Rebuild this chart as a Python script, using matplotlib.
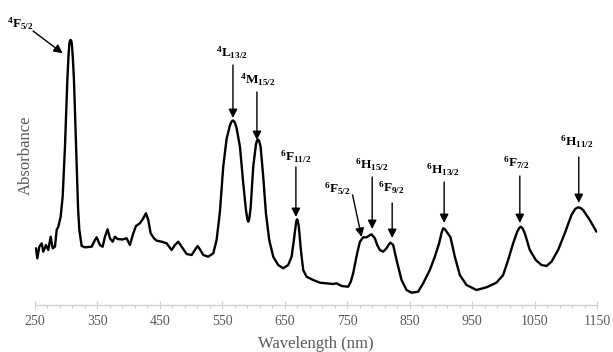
import numpy as np
import matplotlib
matplotlib.use("Agg")
import matplotlib.pyplot as plt

plt.rcParams['font.family'] = ['Liberation Serif', 'DejaVu Serif']
plt.rcParams['mathtext.fontset'] = 'custom'
plt.rcParams['mathtext.rm'] = 'Liberation Serif:bold'
plt.rcParams['mathtext.it'] = 'Liberation Serif:bold'
plt.rcParams['mathtext.bf'] = 'Liberation Serif:bold'

# spectrum (nm, arbitrary absorbance)
wavelength = [251.6, 253.7, 256.9, 260.7, 263.3, 267.6, 271.3, 275.1, 278.3, 282.0,
              284.7, 287.3, 291.1, 294.3, 298.0, 301.8, 303.6, 305.0, 306.1, 307.1,
              308.2, 309.2, 310.6, 312.4, 316.7, 319.0, 321.0, 324.7, 330.0, 340.7,
              346.0, 348.7, 354.0, 358.3, 362.0, 366.3, 370.0, 374.3, 378.0, 382.0,
              390.0, 396.7, 402.0, 407.4, 411.7, 418.0, 423.4, 427.7, 431.4, 435.2,
              440.5, 444.8, 452.8, 460.8, 468.8, 474.1, 479.4, 484.8, 492.8, 500.8,
              506.1, 510.4, 514.1, 519.5, 527.5, 535.5, 540.8, 546.1, 551.4, 556.8,
              562.1, 564.8, 567.4, 570.0, 572.8, 578.2, 583.5, 587.8, 590.0, 591.5,
              593.2, 595.3, 599.5, 603.8, 605.5, 607.0, 609.0, 611.3, 615.5, 619.8,
              625.1, 631.5, 639.5, 647.5, 655.5, 660.9, 664.6, 667.8, 668.9, 669.9,
              671.0, 672.6, 675.8, 679.5, 684.9, 695.5, 706.2, 716.9, 727.5, 732.9,
              741.0, 751.5, 755.5, 759.5, 765.9, 770.3, 775.6, 781.0, 785.5, 789.0,
              794.3, 798.0, 802.3, 807.6, 813.0, 817.0, 819.4, 823.6, 829.0, 837.0,
              845.0, 853.0, 863.6, 871.6, 882.3, 890.3, 897.2, 901.0, 903.6, 906.0,
              909.0, 915.4, 922.3, 930.3, 941.0, 957.0, 973.0, 989.0, 999.7, 1007.7,
              1015.7, 1022.2, 1025.5, 1028.0, 1031.0, 1034.4, 1042.4, 1052.0, 1061.1, 1069.1,
              1077.1, 1087.7, 1098.4, 1109.1, 1115.0, 1119.7, 1123.5, 1127.7, 1138.4, 1149.2]
absorbance = [55.7, 45.7, 57.3, 60.7, 52.3, 59.0, 54.0, 67.3, 55.7, 57.3,
              74.0, 77.3, 87.3, 107.3, 157.3, 224.0, 248.0, 260.0, 263.5, 264.0,
              263.0, 259.0, 246.0, 224.0, 140.7, 95.0, 74.0, 58.0, 56.7, 57.3,
              64.0, 66.7, 59.0, 57.3, 67.3, 74.7, 65.7, 62.3, 67.3, 65.0,
              64.5, 65.7, 59.0, 70.7, 78.0, 80.7, 85.7, 90.7, 84.0, 70.7,
              65.7, 63.3, 62.3, 60.7, 54.0, 59.0, 62.3, 57.3, 50.0, 49.0,
              54.0, 58.0, 54.7, 49.0, 47.3, 50.7, 64.0, 92.0, 137.0, 165.0,
              178.5, 182.5, 183.5, 181.5, 176.0, 157.3, 120.7, 94.0, 85.0, 82.3,
              85.5, 96.0, 137.3, 159.5, 163.5, 164.5, 163.0, 157.3, 127.3, 90.7,
              64.0, 47.3, 39.0, 35.7, 39.0, 47.3, 64.0, 80.0, 84.0, 84.7,
              83.0, 76.5, 54.0, 34.0, 27.3, 24.0, 21.3, 20.7, 20.0, 20.7,
              18.0, 17.3, 22.0, 30.7, 50.7, 62.3, 66.7, 66.7, 68.5, 69.7,
              65.7, 59.0, 54.0, 52.3, 55.7, 60.0, 61.3, 59.0, 44.0, 24.0,
              14.0, 11.3, 12.3, 20.7, 34.0, 47.3, 60.7, 71.0, 75.7, 75.0,
              72.5, 66.7, 47.3, 29.0, 19.0, 14.0, 16.7, 21.3, 29.0, 44.0,
              60.7, 72.3, 76.0, 77.3, 75.5, 70.7, 54.0, 44.0, 39.0, 38.0,
              42.3, 54.0, 70.7, 89.0, 95.0, 96.7, 96.0, 94.0, 84.0, 72.3]

# transition labels: text spot, arrow tail, arrow tip
labels = [r'$^{4}\mathrm{F}_{5/2}$', r'$^{4}\mathrm{L}_{13/2}$', r'$^{4}\mathrm{M}_{15/2}$',
          r'$^{6}\mathrm{F}_{11/2}$', r'$^{6}\mathrm{F}_{5/2}$', r'$^{6}\mathrm{H}_{15/2}$',
          r'$^{6}\mathrm{F}_{9/2}$', r'$^{6}\mathrm{H}_{13/2}$', r'$^{6}\mathrm{F}_{7/2}$',
          r'$^{6}\mathrm{H}_{11/2}$']
text_xy = [(226, 280), (565.4, 251), (607, 224), (667.8, 147), (733.4, 115),
           (789.5, 139), (819.9, 116), (903.1, 134), (1021.6, 141), (1117.6, 162)]
tail_xy = [(246.8, 273), (567, 239), (605.4, 212), (667.8, 137), (758.6, 109),
           (790, 127), (822, 101), (905.2, 122), (1026.4, 128), (1120.8, 147)]
tip_xy = [(294.3, 250.7), (567, 186), (605.4, 164), (667.8, 87), (773, 67),
          (790, 75), (822, 66), (905.2, 81), (1026.4, 81), (1120.8, 101)]

fig = plt.figure(figsize=(6.13, 3.52), dpi=100)
ax = fig.add_axes([35/613, 47/352, 562/613, 300/352])

ax.plot(wavelength, absorbance, color='black', lw=1.7,
        solid_joinstyle='round', solid_capstyle='round')

for lab, t, a, b in zip(labels, text_xy, tail_xy, tip_xy):
    ax.annotate('', xy=b, xytext=a, annotation_clip=False,
                arrowprops=dict(arrowstyle='-|>', color='black', lw=1.0,
                                mutation_scale=13, shrinkA=0, shrinkB=0))
    ax.text(t[0], t[1], lab, ha='center', va='center', fontsize=9.5,
            color='black', clip_on=False)

ax.set_xlim(250, 1150)
ax.set_ylim(-1, 299)
ax.set_xticks(np.arange(250, 1151, 100))
ax.set_xticks(np.arange(250, 1151, 20), minor=True)
ax.tick_params(axis='x', which='major', direction='inout', length=6, width=0.8,
               color='#d0d0d0', labelcolor='#595959', labelsize=10, pad=4)
ax.tick_params(axis='x', which='minor', direction='out', length=2.5, width=0.8,
               color='#d0d0d0')
ax.set_yticks([])
for s in ['top', 'right', 'left']:
    ax.spines[s].set_visible(False)
ax.spines['bottom'].set_color('#d0d0d0')
ax.spines['bottom'].set_linewidth(1.0)

ax.set_xlabel('Wavelength (nm)', fontsize=12, color='#595959', labelpad=6)
ax.set_ylabel('Absorbance', fontsize=12, color='#595959', labelpad=1)

fig.savefig('out.png', dpi=100)
